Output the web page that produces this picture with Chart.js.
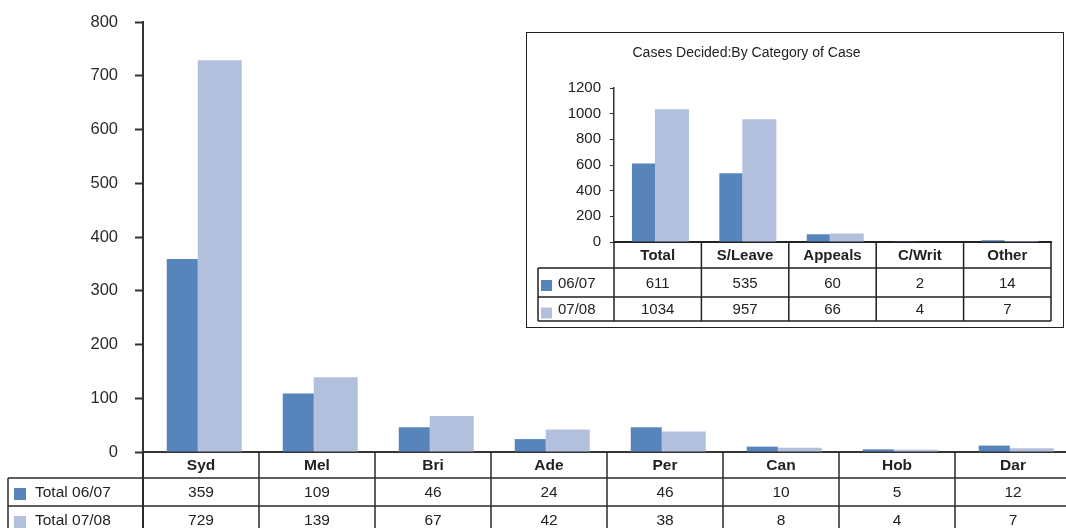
<!DOCTYPE html>
<html>
<head>
<meta charset="utf-8">
<title>Cases Decided</title>
<script src="https://cdn.jsdelivr.net/npm/chart.js@4/dist/chart.umd.min.js"></script>
<style>
  html, body { margin: 0; padding: 0; width: 1066px; height: 528px; overflow: hidden; background: #fff; }
  #main { position: absolute; left: 0; top: 0; }
  #insetBox { position: absolute; left: 526px; top: 32px; width: 538px; height: 296px;
              box-sizing: border-box; border: 1px solid #222; background: #fff; }
  #inset { position: absolute; left: 0; top: 0; }
</style>
</head>
<body>
<canvas id="main" width="1072" height="528"></canvas>
<div id="insetBox"><canvas id="inset" width="536" height="294"></canvas></div>
<script>
// Cases decided by registry
const registries = ['Syd', 'Mel', 'Bri', 'Ade', 'Per', 'Can', 'Hob', 'Dar'];
const total0607 = [359, 109, 46, 24, 46, 10, 5, 12];
const total0708 = [729, 139, 67, 42, 38, 8, 4, 7];
const registrySeries = ['Total 06/07', 'Total 07/08'];

// Cases decided by category of case
const caseCategories = ['Total', 'S/Leave', 'Appeals', 'C/Writ', 'Other'];
const cases0607 = [611, 535, 60, 2, 14];
const cases0708 = [1034, 957, 66, 4, 7];
const caseSeries = ['06/07', '07/08'];
const insetTitle = 'Cases Decided:By Category of Case';

const DARK = '#5884bc';
const LIGHT = '#b2c0de';
const FONT = "'Liberation Sans', Arial, sans-serif";

// Data table drawn under the category axis, columns follow the x scale
const dataTable = {
  id: 'dataTable',
  afterDraw(chart, args, o) {
    const ctx = chart.ctx;
    const xs = chart.scales.x;
    const n = chart.data.labels.length;
    const w = (xs.right - xs.left) / n;
    const top = xs.top;
    const headBottom = top + o.headerHeight;
    const rowTops = [];
    let yy = headBottom;
    o.rowHeights.forEach(h => { rowTops.push(yy); yy += h; });
    const bottom = yy;

    ctx.save();
    ctx.strokeStyle = o.lineColor;
    ctx.lineWidth = o.lineWidth;
    ctx.beginPath();
    ctx.moveTo(o.left, headBottom); ctx.lineTo(xs.right, headBottom);
    rowTops.forEach((t, r) => {
      const b = t + o.rowHeights[r];
      ctx.moveTo(o.left, b); ctx.lineTo(xs.right, b);
    });
    for (let i = 1; i <= n; i++) {
      const x = xs.left + i * w;
      ctx.moveTo(x, top); ctx.lineTo(x, bottom);
    }
    ctx.moveTo(o.left, headBottom); ctx.lineTo(o.left, bottom);
    ctx.stroke();

    ctx.lineWidth = o.axisWidth;
    ctx.beginPath();
    ctx.moveTo(xs.left, top); ctx.lineTo(xs.left, bottom);
    ctx.stroke();

    ctx.fillStyle = o.textColor;
    ctx.textBaseline = 'middle';
    ctx.textAlign = 'center';
    ctx.font = 'bold ' + o.fontSize + 'px ' + FONT;
    chart.data.labels.forEach((lab, i) => {
      ctx.fillText(lab, xs.left + (i + 0.5) * w, top + o.headerHeight / 2 + 1);
    });

    ctx.font = o.fontSize + 'px ' + FONT;
    chart.data.datasets.forEach((ds, r) => {
      const cy = rowTops[r] + o.rowHeights[r] / 2 + 1;
      ds.data.forEach((v, i) => {
        ctx.textAlign = 'center';
        ctx.fillText(String(v), xs.left + (i + 0.5) * w, cy);
      });
      ctx.fillStyle = ds.backgroundColor;
      ctx.fillRect(o.swatchX, cy - o.swatch / 2 + o.swatchDrop[r], o.swatch, o.swatch);
      ctx.fillStyle = o.textColor;
      ctx.textAlign = 'left';
      ctx.fillText(ds.label, o.labelX, cy);
    });
    ctx.restore();
  }
};

// Free-standing chart title
const titleText = {
  id: 'titleText',
  afterDraw(chart, args, o) {
    if (!o.text) return;
    const ctx = chart.ctx;
    ctx.save();
    ctx.fillStyle = o.color;
    ctx.font = o.size + 'px ' + FONT;
    ctx.textAlign = 'center';
    ctx.textBaseline = 'middle';
    ctx.fillText(o.text, o.x, o.y);
    ctx.restore();
  }
};

function barSet(label, data, color, pct) {
  return { label, data, backgroundColor: color, borderWidth: 0, barPercentage: pct };
}

const plainNumber = v => String(v);

// Fixed-width value axis; the label gap must not push the plot area down
function fixAxis(width) {
  return s => { s.width = width; s.paddingTop = 0; s.paddingBottom = 0; };
}

// Main chart: cases decided per registry
new Chart(document.getElementById('main'), {
  type: 'bar',
  data: {
    labels: registries,
    datasets: [
      barSet(registrySeries[0], total0607, DARK, 31 / 37.5),
      barSet(registrySeries[1], total0708, LIGHT, 44 / 37.5)
    ]
  },
  options: {
    responsive: false,
    devicePixelRatio: 1,
    animation: false,
    categoryPercentage: 75 / 116,
    layout: { padding: { top: 22, right: 1, left: 0, bottom: 0 } },
    plugins: {
      legend: { display: false },
      tooltip: { enabled: false },
      titleText: { text: '' },
      dataTable: {
        headerHeight: 26, rowHeights: [28, 28], left: 8,
        lineColor: '#2a2a2a', lineWidth: 1.5, axisWidth: 2,
        textColor: '#222', fontSize: 15.5,
        swatchX: 14, swatch: 12, swatchDrop: [1, 1], labelX: 35
      }
    },
    scales: {
      x: {
        afterFit(s) { s.height = 76; },
        grid: { display: true, drawOnChartArea: false, drawTicks: false },
        border: { display: true, color: '#333', width: 2 },
        ticks: { display: false }
      },
      y: {
        min: 0, max: 800,
        afterFit: fixAxis(143),
        grid: { drawOnChartArea: false, drawTicks: true, tickLength: 8, tickColor: '#333', tickWidth: 2 },
        border: { display: true, color: '#333', width: 2 },
        ticks: { stepSize: 100, padding: 17, color: '#2a2a2a', font: { family: FONT, size: 16.5 }, callback: plainNumber }
      }
    }
  },
  plugins: [dataTable, titleText]
});

// Inset chart: cases decided by category of case
new Chart(document.getElementById('inset'), {
  type: 'bar',
  data: {
    labels: caseCategories,
    datasets: [
      barSet(caseSeries[0], cases0607, DARK, 23 / 28.5),
      barSet(caseSeries[1], cases0708, LIGHT, 34 / 28.5)
    ]
  },
  options: {
    responsive: false,
    devicePixelRatio: 1,
    animation: false,
    categoryPercentage: 57 / 87.4,
    layout: { padding: { top: 55, right: 12, left: 0, bottom: 0 } },
    plugins: {
      legend: { display: false },
      tooltip: { enabled: false },
      titleText: { text: insetTitle, x: 219.5, y: 20, size: 14, color: '#222' },
      dataTable: {
        headerHeight: 26, rowHeights: [29, 24], left: 11,
        lineColor: '#222', lineWidth: 1.5, axisWidth: 1.5,
        textColor: '#222', fontSize: 15,
        swatchX: 14, swatch: 11, swatchDrop: [2, 3], labelX: 31
      }
    },
    scales: {
      x: {
        afterFit(s) { s.height = 85; },
        grid: { display: true, drawOnChartArea: false, drawTicks: false },
        border: { display: true, color: '#222', width: 2 },
        ticks: { display: false }
      },
      y: {
        min: 0, max: 1200,
        afterFit: fixAxis(87),
        grid: { drawOnChartArea: false, drawTicks: true, tickLength: 4, tickColor: '#333', tickWidth: 1 },
        border: { display: true, color: '#333', width: 1.5 },
        ticks: { stepSize: 200, padding: 9, color: '#222', font: { family: FONT, size: 15 }, callback: plainNumber }
      }
    }
  },
  plugins: [dataTable, titleText]
});
</script>
</body>
</html>
